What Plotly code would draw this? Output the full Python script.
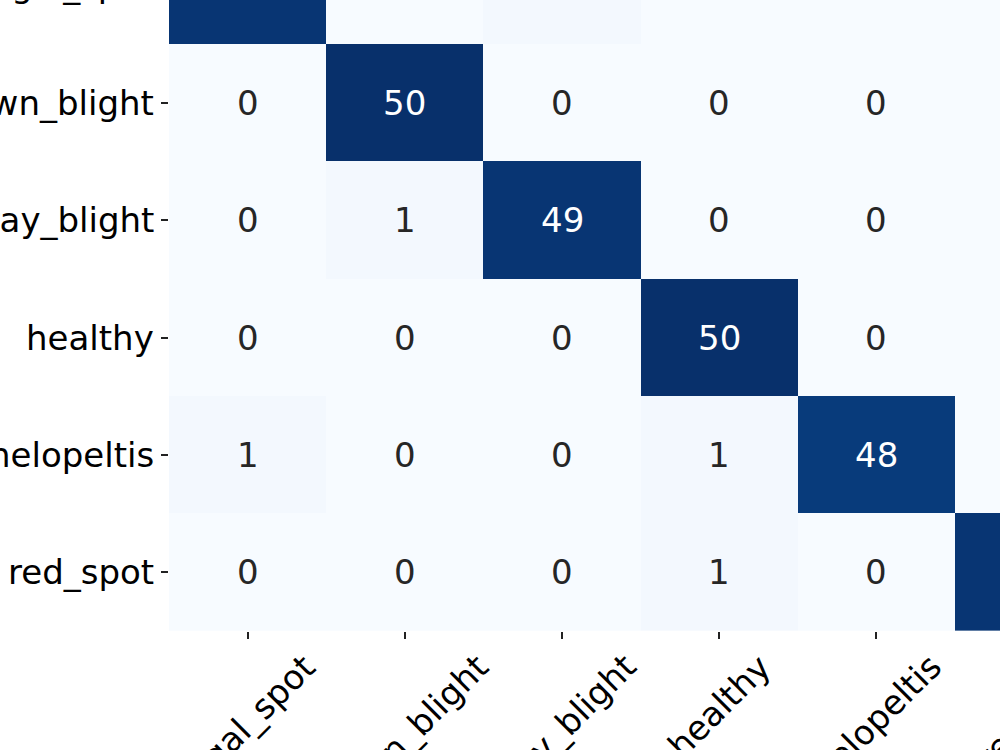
import plotly.graph_objects as go

# ---- data ----
classes = ["algal_spot", "brown_blight", "gray_blight", "healthy", "helopeltis", "red_spot"]
counts = [
    [49, 0, 1, 0, 0, 0],
    [0, 50, 0, 0, 0, 0],
    [0, 1, 49, 0, 0, 0],
    [0, 0, 0, 50, 0, 0],
    [1, 0, 0, 1, 48, 0],
    [0, 0, 0, 1, 0, 49],
]

# ---- style / view (the reference shows a cropped window of the matrix) ----
blues = [
    [0.0, "#f7fbff"], [0.125, "#deebf7"], [0.25, "#c6dbef"], [0.375, "#9ecae1"],
    [0.5, "#6baed6"], [0.625, "#4292c6"], [0.75, "#2171b5"], [0.875, "#08519c"],
    [1.0, "#08306b"],
]
x_view = [-0.5, 4.786]
y_view = [5.5, 0.125]
FONT = "DejaVu Sans"
FS = 34
TICKLEN = 7
PAD = 7

idx = list(range(len(classes)))
zmax = max(max(r) for r in counts)
zmin = min(min(r) for r in counts)

fig = go.Figure(
    go.Heatmap(
        z=counts, x=idx, y=idx, colorscale=blues, zmin=zmin, zmax=zmax,
        showscale=False, hoverinfo="skip",
    )
)

annotations = []
# cell values
for r, row in enumerate(counts):
    for c, v in enumerate(row):
        frac = (v - zmin) / (zmax - zmin)
        annotations.append(dict(
            x=c, y=r, xref="x", yref="y", text=str(v), showarrow=False,
            font=dict(family=FONT, size=FS, color="white" if frac > 0.6 else "#262626"),
        ))

# x tick labels (rotated 45°, centred on the tick like matplotlib)
for c, name in enumerate(classes):
    xf = (c - x_view[0]) / (x_view[1] - x_view[0])
    annotations.append(dict(
        x=xf, y=0, xref="paper", yref="paper", yshift=-(TICKLEN + PAD),
        text=name, textangle=-45, xanchor="center", yanchor="top",
        showarrow=False, borderpad=0,
        font=dict(family=FONT, size=FS, color="black"),
    ))

# y tick labels
for r, name in enumerate(classes):
    yf = (y_view[0] - r) / (y_view[0] - y_view[1])
    annotations.append(dict(
        x=0, y=yf, xref="paper", yref="paper", xshift=-(TICKLEN + PAD),
        text=name, xanchor="right", yanchor="middle",
        showarrow=False, borderpad=0,
        font=dict(family=FONT, size=FS, color="black"),
    ))

axis_common = dict(
    tickmode="array", tickvals=idx, showticklabels=False,
    ticks="outside", ticklen=TICKLEN, tickwidth=1.5, tickcolor="#222",
    showgrid=False, zeroline=False, showline=False,
)

fig.update_layout(
    width=1000, height=750,
    margin=dict(l=169, r=0, t=0, b=119, pad=0),
    paper_bgcolor="white", plot_bgcolor="white",
    xaxis=dict(range=x_view, **axis_common),
    yaxis=dict(range=y_view, **axis_common),
    annotations=annotations,
    font=dict(family=FONT, size=FS),
)

fig.write_html("out.html")
